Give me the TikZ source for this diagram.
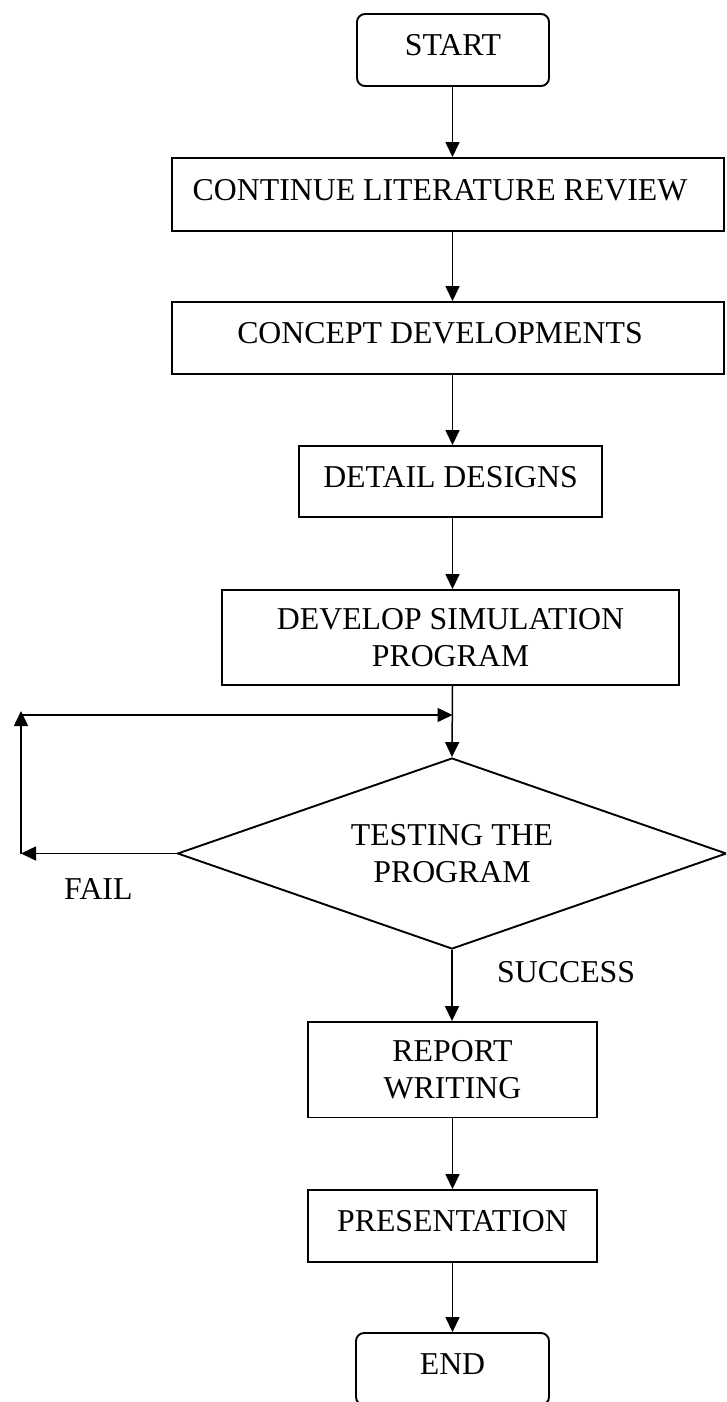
\documentclass[tikz,border=0pt]{standalone}
\usepackage{fontspec}
\setmainfont{Liberation Serif}
\usetikzlibrary{arrows.meta,shapes.geometric}
\begin{document}
\begin{tikzpicture}[x=1pt,y=-1pt,
  every node/.style={font=\fontsize{31.8}{37}\selectfont},
  box/.style={draw, line width=1.9pt, inner sep=0pt},
  oneline/.style={text height=21pt, text depth=10pt},
  twoline/.style={align=center},
  term/.style={box, oneline, rounded corners=8pt},
  caption/.style={oneline, inner sep=0pt},
  arr/.style={line width=1.5pt, -{Triangle[length=15pt,width=14pt]}},
  lbl/.style={anchor=base west, inner sep=0pt}
]
\useasboundingbox (0,0) rectangle (726,1402);
\clip (0,0) rectangle (726,1402);
\coordinate (spine) at (452.5,0);

% process steps
\node[term, minimum width=192pt, minimum height=72pt] (start) at (453,50) {START};
\node[box, minimum width=552pt, minimum height=73pt] (review) at (448,194.5) {};
\node[caption] (reviewtext) at (440,194.5) {CONTINUE LITERATURE REVIEW};
\node[box, minimum width=552pt, minimum height=72pt] (concept) at (448,338) {};
\node[caption] (concepttext) at (440,338) {CONCEPT DEVELOPMENTS};
\node[box, oneline, minimum width=303pt, minimum height=71pt] (detail) at (450.5,481.5) {DETAIL DESIGNS};
\node[box, twoline, minimum width=457pt, minimum height=95pt] (develop) at (450.5,637.5) {DEVELOP SIMULATION\\PROGRAM};
\node[diamond, draw, line width=1.9pt, inner sep=0pt, aspect=2.874,
      minimum width=549pt, minimum height=191pt, align=center] (test) at (452,853.5) {TESTING THE\\PROGRAM};
\node[box, twoline, minimum width=289pt, minimum height=95.5pt] (report) at (452.5,1069.75) {REPORT\\WRITING};
\node[box, oneline, minimum width=289pt, minimum height=72pt] (present) at (452.5,1226) {PRESENTATION};
\node[term, minimum width=193pt, minimum height=72pt] (finish) at (452.5,1369) {END};

% decision labels
\node[lbl] (success) at (497,982) {SUCCESS};
\node[lbl] (fail) at (64,899) {FAIL};

% main flow
\draw[arr] (start.south -| spine) -- (review.north -| spine);
\draw[arr] (review.south -| spine) -- (concept.north -| spine);
\draw[arr] (concept.south -| spine) -- (detail.north -| spine);
\draw[arr] (detail.south -| spine) -- (develop.north -| spine);
\draw[arr] (develop.south -| spine) -- (test.north);
\draw[arr] (test.south) -- (test.south |- report.north);
\draw[arr] (report.south -| spine) -- (present.north -| spine);
\draw[arr] (present.south -| spine) -- (finish.north -| spine);

% retry loop on failure
\coordinate (lbot) at (21,853.5);
\coordinate (ltop) at (21,711);
\coordinate (join) at (452.5,715);
\draw[arr] (test.west) -- (lbot);
\draw[arr] (lbot) -- (ltop);
\draw[arr] (ltop |- join) -- (join);
\end{tikzpicture}
\end{document}
